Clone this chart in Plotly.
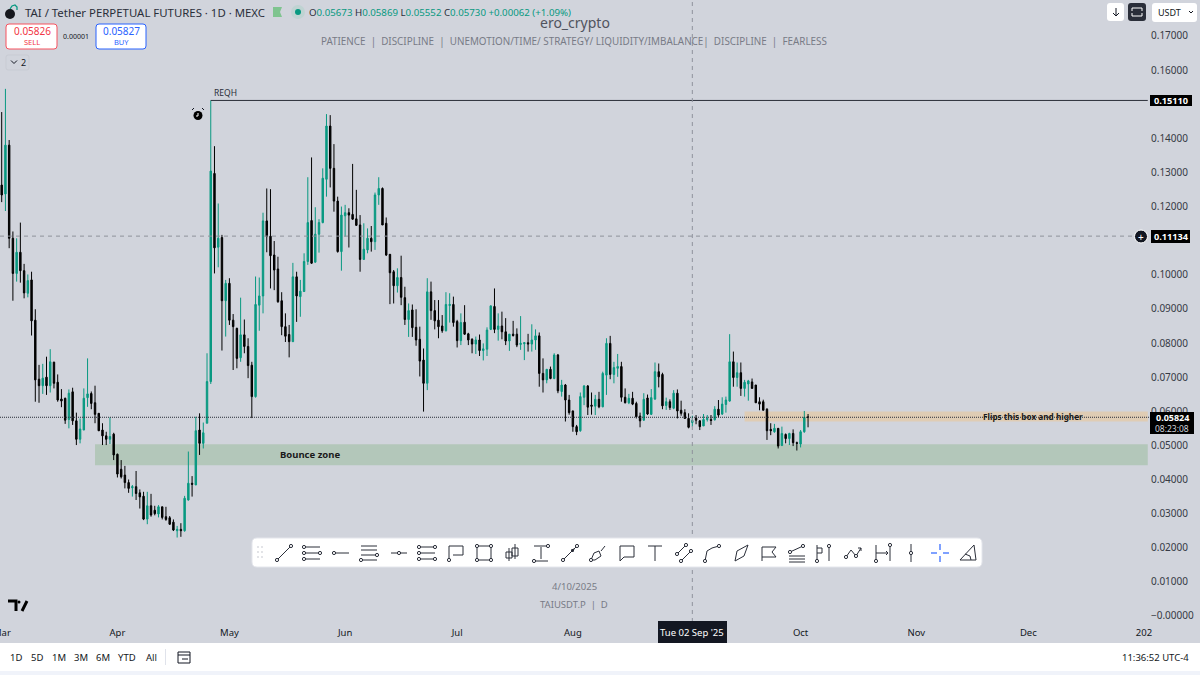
import pandas as pd
import plotly.graph_objects as go

W, H = 1200, 675
BG = "#d1d4dc"
TEAL = "#089981"
INK = "#131722"

# daily candles from 1 Mar 2025
opens = [
    .1263, .1237, .1380, .1107, .1004, .1066, .1012, .0946, .0985, .0867,
    .0694, .0675, .0700, .0675, .0744, .0685, .0636, .0638, .0576, .0657,
    .0572, .0518, .0545, .0640, .0652, .0625, .0594, .0545, .0528, .0518,
    .0533, .0474, .0430, .0413, .0391, .0376, .0379, .0361, .0351, .0284,
    .0323, .0310, .0299, .0320, .0291, .0288, .0275, .0250, .0254, .0250,
    .0340, .0389, .0384, .0545, .0506, .0565, .0687, .1297, .1081, .1109,
    .0924, .0975, .0867, .0843, .0757, .0824, .0790, .0735, .0643, .0911,
    .0938, .1158, .1113, .1058, .1017, .0924, .0848, .0825, .0804, .0994,
    .0936, .0951, .1039, .1159, .1037, .1119, .1153, .1280, .1436, .1312,
    .1216, .1068, .1173, .1182, .1177, .1164, .1146, .1045, .1073, .1107,
    .1097, .1234, .1253, .1151, .1060, .1009, .0968, .0992, .0933, .0869,
    .0897, .0846, .0811, .0750, .0682, .0950, .0895, .0867, .0850, .0836,
    .0910, .0913, .0863, .0807, .0861, .0827, .0811, .0797, .0809, .0778,
    .0782, .0840, .0907, .0840, .0850, .0833, .0806, .0826, .0826, .0796,
    .0798, .0801, .0797, .0809, .0821, .0711, .0692, .0723, .0696, .0765,
    .0658, .0677, .0633, .0601, .0555, .0543, .0641, .0674, .0618, .0615,
    .0635, .0613, .0706, .0799, .0708, .0726, .0731, .0641, .0625, .0638,
    .0623, .0586, .0574, .0639, .0591, .0636, .0716, .0708, .0617, .0628,
    .0609, .0653, .0603, .0596, .0579, .05673, .0580, .0572, .0557, .0576,
    .0576, .0575, .0606, .0592, .0620, .0630, .0745, .0699, .0713, .0667,
    .0680, .0686, .0677, .0628, .0628, .0606, .0547, .0540, .0550, .0500,
    .0532, .0520, .0535, .0508, .0504, .0540, .05835,
]
highs = [
    .1477, .1545, .1395, .1127, .1107, .1153, .1032, .1001, .1009, .0899,
    .0736, .0739, .0760, .0782, .0745, .0708, .0665, .0640, .0664, .0669,
    .0596, .0579, .0667, .0755, .0658, .0675, .0594, .0565, .0540, .0582,
    .0537, .0476, .0457, .0440, .0400, .0384, .0425, .0371, .0364, .0364,
    .0358, .0323, .0325, .0320, .0320, .0293, .0283, .0264, .0272, .0352,
    .0482, .0410, .0584, .0594, .0567, .0770, .1511, .1377, .1209, .1117,
    .0985, .0990, .0885, .0845, .0933, .0869, .0814, .0745, .0995, .0992,
    .1182, .1253, .1251, .1099, .1053, .0949, .0887, .0853, .1035, .1009,
    .0985, .1063, .1286, .1344, .1198, .1163, .1312, .1471, .1468, .1383,
    .1229, .1200, .1205, .1195, .1325, .1249, .1175, .1151, .1136, .1143,
    .1241, .1286, .1256, .1168, .1061, .1014, .1019, .1056, .0965, .0916,
    .0913, .0899, .0848, .0784, .0990, .0980, .0926, .0926, .0882, .0949,
    .0946, .0936, .0868, .0887, .0911, .0830, .0814, .0819, .0825, .0799,
    .0846, .0909, .0960, .0887, .0892, .0873, .0826, .0865, .0843, .0879,
    .0801, .0827, .0855, .0840, .0831, .0755, .0723, .0731, .0770, .0768,
    .0692, .0680, .0648, .0602, .0560, .0655, .0677, .0677, .0655, .0648,
    .0657, .0716, .0814, .0821, .0745, .0768, .0745, .0667, .0651, .0657,
    .0628, .0596, .0653, .0649, .0665, .0743, .0740, .0713, .0640, .0635,
    .0662, .0664, .0631, .0606, .0594, .05869, .0589, .0574, .0592, .0589,
    .0589, .0615, .0633, .0641, .0643, .0826, .0775, .0743, .0743, .0692,
    .0692, .0696, .0677, .0641, .0634, .0609, .0565, .0563, .0550, .0555,
    .0535, .0537, .0547, .0511, .0545, .0601, .0592,
]
lows = [
    .1213, .1187, .1078, .0924, .0980, .0977, .0931, .0934, .0822, .0628,
    .0625, .0651, .0648, .0655, .0667, .0628, .0612, .0563, .0550, .0560,
    .0501, .0506, .0545, .0613, .0606, .0565, .0542, .0501, .0501, .0504,
    .0457, .0406, .0403, .0374, .0361, .0350, .0340, .0315, .0281, .0269,
    .0291, .0295, .0289, .0283, .0279, .0267, .0249, .0230, .0232, .0247,
    .0338, .0350, .0384, .0472, .0491, .0565, .0680, .1004, .1022, .0778,
    .0819, .0853, .0721, .0726, .0745, .0770, .0697, .0580, .0640, .0836,
    .0887, .1066, .0960, .0955, .0918, .0823, .0803, .0758, .0804, .0862,
    .0877, .0950, .1029, .1032, .1036, .1065, .1151, .1229, .1256, .1185,
    .1065, .1012, .1112, .1080, .1161, .1143, .1009, .1045, .1063, .1068,
    .1073, .1205, .1146, .1055, .0914, .0916, .0948, .0911, .0853, .0818,
    .0818, .0792, .0702, .0599, .0662, .0868, .0840, .0814, .0830, .0834,
    .0860, .0848, .0787, .0794, .0824, .0794, .0770, .0768, .0762, .0749,
    .0762, .0838, .0829, .0807, .0811, .0794, .0777, .0819, .0788, .0780,
    .0750, .0775, .0775, .0780, .0672, .0655, .0682, .0694, .0694, .0653,
    .0643, .0570, .0590, .0540, .0530, .0540, .0618, .0589, .0590, .0589,
    .0609, .0612, .0648, .0694, .0682, .0701, .0628, .0623, .0621, .0618,
    .0579, .0553, .0572, .0589, .0589, .0633, .0670, .0606, .0604, .0604,
    .0606, .0579, .0587, .0579, .0550, .05552, .0562, .0545, .0557, .0570,
    .0560, .0573, .0582, .0589, .0596, .0628, .0672, .0672, .0645, .0643,
    .0631, .0667, .0625, .0603, .0603, .0516, .0530, .0537, .0491, .0498,
    .0506, .0501, .0498, .0485, .0494, .0537, .0553,
]
closes = [
    .1234, .1380, .1107, .1004, .1066, .1012, .0947, .0983, .0865, .0692,
    .0675, .0697, .0675, .0745, .0682, .0633, .0630, .0574, .0653, .0572,
    .0518, .0548, .0638, .0651, .0623, .0591, .0543, .0528, .0518, .0526,
    .0472, .0416, .0408, .0391, .0374, .0379, .0359, .0349, .0284, .0323,
    .0296, .0300, .0320, .0289, .0283, .0269, .0252, .0254, .0250, .0345,
    .0389, .0386, .0543, .0506, .0537, .0687, .1304, .1079, .1107, .0924,
    .0975, .0867, .0848, .0755, .0824, .0790, .0734, .0643, .0913, .0938,
    .1158, .1112, .1056, .1014, .0921, .0848, .0820, .0804, .0994, .0938,
    .0952, .1039, .1153, .1034, .1119, .1153, .1283, .1436, .1312, .1216,
    .1068, .1175, .1182, .1175, .1163, .1145, .1045, .1075, .1107, .1097,
    .1234, .1253, .1146, .1058, .1006, .0968, .0992, .0934, .0869, .0895,
    .0845, .0809, .0747, .0682, .0950, .0895, .0865, .0848, .0836, .0913,
    .0913, .0860, .0807, .0860, .0826, .0809, .0797, .0809, .0778, .0783,
    .0838, .0909, .0840, .0850, .0833, .0806, .0826, .0822, .0794, .0799,
    .0801, .0797, .0809, .0821, .0711, .0692, .0723, .0696, .0765, .0660,
    .0677, .0633, .0596, .0555, .0540, .0643, .0674, .0612, .0615, .0635,
    .0613, .0711, .0799, .0708, .0728, .0731, .0641, .0625, .0638, .0621,
    .0584, .0572, .0635, .0592, .0640, .0716, .0701, .0616, .0628, .0611,
    .0653, .0601, .0594, .0579, .0553, .05730, .0574, .0555, .0576, .0579,
    .0573, .0606, .0589, .0621, .0633, .0745, .0699, .0713, .0667, .0685,
    .0689, .0667, .0625, .0621, .0603, .0543, .0543, .0550, .0498, .0535,
    .0520, .0535, .0508, .0506, .0540, .0582, .05824,
]

price_ticks = [0.17, 0.16, 0.14, 0.13, 0.12, 0.10, 0.09, 0.08, 0.07, 0.06,
               0.05, 0.04, 0.03, 0.02, 0.01, 0.0]
price_labels = ["0.17000", "0.16000", "0.14000", "0.13000", "0.12000", "0.10000",
                "0.09000", "0.08000", "0.07000", "0.06000", "0.05000", "0.04000",
                "0.03000", "0.02000", "0.01000", "−0.00000"]
month_ticks = ["2025-04-01", "2025-05-01", "2025-06-01", "2025-07-01",
               "2025-08-01", "2025-10-01", "2025-11-01", "2025-12-01", "2026-01-01"]
month_labels = ["Apr", "May", "Jun", "Jul", "Aug", "Oct", "Nov", "Dec", "202"]
range_buttons = ["1D", "5D", "1M", "3M", "6M", "YTD", "All"]

req_high = 0.15110
cross_price = 0.11134
last_price = 0.05824
cross_date = "2025-09-02"
bounce_zone = (0.0442, 0.0503, "2025-03-26")
flip_zone = (0.0570, 0.0599, "2025-09-16")

dates = pd.date_range("2025-03-01", periods=len(opens), freq="D")


def px(x):
    return x / W


def py(y):
    return 1 - y / H


def rect(x0, y0, x1, y1, fill, line=None, layer="above"):
    return dict(type="rect", xref="paper", yref="paper", x0=px(x0), x1=px(x1), y0=py(y0), y1=py(y1),
                fillcolor=fill, line=dict(width=1 if line else 0, color=line or fill), layer=layer)


def rrect(x0, y0, x1, y1, r, fill, line=None):
    d = (f"M{px(x0 + r)},{py(y0)} L{px(x1 - r)},{py(y0)} Q{px(x1)},{py(y0)} {px(x1)},{py(y0 + r)} "
         f"L{px(x1)},{py(y1 - r)} Q{px(x1)},{py(y1)} {px(x1 - r)},{py(y1)} "
         f"L{px(x0 + r)},{py(y1)} Q{px(x0)},{py(y1)} {px(x0)},{py(y1 - r)} "
         f"L{px(x0)},{py(y0 + r)} Q{px(x0)},{py(y0)} {px(x0 + r)},{py(y0)} Z")
    return dict(type="path", xref="paper", yref="paper", path=d, fillcolor=fill,
                line=dict(width=1 if line else 0, color=line or fill), layer="above")


def circle(cx, cy, r, fill, line=None):
    return dict(type="circle", xref="paper", yref="paper", x0=px(cx - r), x1=px(cx + r),
                y0=py(cy + r), y1=py(cy - r), fillcolor=fill,
                line=dict(width=1 if line else 0, color=line or fill), layer="above")


def polyline(cx, cy, pts, color=INK, width=1):
    d = "M" + " L".join(f"{px(cx + a)},{py(cy + b)}" for a, b in pts)
    return dict(type="path", xref="paper", yref="paper", path=d,
                line=dict(width=width, color=color), layer="above")


def label(x, y, text, size=10, color=INK, anchor="center", family="Noto Sans", bold=False):
    return dict(xref="paper", yref="paper", x=px(x), y=py(y), text=f"<b>{text}</b>" if bold else text,
                showarrow=False, xanchor=anchor, yanchor="middle", align=anchor,
                font=dict(size=size, color=color, family=family))


fig = go.Figure(go.Candlestick(
    x=dates, open=opens, high=highs, low=lows, close=closes,
    increasing=dict(line=dict(color=TEAL, width=1), fillcolor=TEAL),
    decreasing=dict(line=dict(color="#000000", width=1), fillcolor="#000000"),
    whiskerwidth=0, showlegend=False,
))

shapes = [
    dict(type="rect", xref="x", yref="y", x0=bounce_zone[2], x1="2026-01-02", y0=bounce_zone[0], y1=bounce_zone[1],
         fillcolor="#b3c7ba", line=dict(width=0), layer="below"),
    dict(type="rect", xref="x", yref="y", x0=flip_zone[2], x1="2026-01-02", y0=flip_zone[0], y1=flip_zone[1],
         fillcolor="#dfccb4", line=dict(width=0), layer="below"),
    dict(type="line", xref="x", yref="y", x0="2025-04-26", x1="2026-01-02", y0=req_high, y1=req_high,
         line=dict(color="#2a2e39", width=1)),
    dict(type="line", xref="paper", yref="y", x0=0, x1=1150 / W, y0=cross_price, y1=cross_price,
         line=dict(color="#8f929c", width=1, dash="4px,4px")),
    dict(type="line", xref="x", yref="paper", x0=cross_date, x1=cross_date, y0=py(622), y1=1,
         line=dict(color="#8f929c", width=1, dash="4px,4px")),
    dict(type="line", xref="paper", yref="y", x0=0, x1=1150 / W, y0=last_price, y1=last_price,
         line=dict(color="#2a2e39", width=1, dash="1px,1px")),
]

annotations = [
    label(23, 12, "TAI / Tether PERPETUAL FUTURES · 1D · MEXC", 11.4, "#2a2e39", "left"),
    label(307, 12, "O<span style='color:#089981'>0.05673</span> H<span style='color:#089981'>0.05869</span> "
                   "L<span style='color:#089981'>0.05552</span> C<span style='color:#089981'>0.05730 +0.00062 (+1.09%)</span>",
          9.7, "#2a2e39", "left"),
    label(575, 22, "ero_crypto", 14, "#50535e"),
    label(574, 41, "PATIENCE  |  DISCIPLINE  |  UNEMOTION/TIME/ STRATEGY/ LIQUIDITY/IMBALANCE|  DISCIPLINE  |  FEARLESS",
          9.85, "#787b86"),
    label(32, 31, "0.05826", 10, "#f23645"),
    label(32, 42, "SELL", 7.5, "#f23645"),
    label(121, 31, "0.05827", 10, "#2962ff"),
    label(121, 42, "BUY", 7.5, "#2962ff"),
    label(76, 36, "0.00001", 7, INK),
    label(23, 62, "2", 9, INK),
    label(225, 92, "REQH", 8.5, "#2a2e39"),
    label(310, 454, "Bounce zone", 9.5, "#1a1a1a", bold=True),
    label(1033, 416, "Flips this box and higher", 8.2, "#1a1a1a", bold=True),
    label(574, 586, "4/10/2025", 9.5, "#787b86"),
    label(574, 604, "TAIUSDT.P  |  D", 9.5, "#787b86"),
    label(692.5, 632, "Tue 02 Sep '25", 9.5, "#ffffff"),
    label(1.7, 632, "Mar", 9.5, INK),
    label(1171, 100.5, "0.15110", 9.2, "#ffffff", bold=True),
    label(1171, 236.5, "0.11134", 9.2, "#ffffff", bold=True),
    label(1172, 417.5, "0.05824", 9, "#ffffff", bold=True),
    label(1172, 428.5, "08:23:08", 8.5, "#d1d4dc"),
    label(1141, 236.5, "+", 10, "#ffffff"),
    label(1169, 12, "USDT", 9, INK),
    label(1191, 657, "11:36:52 UTC-4", 9.5, INK, "right"),
]
for b, xb in zip(range_buttons, [16, 37, 59, 81, 103, 127, 151]):
    annotations.append(label(xb, 657, b, 9.5, INK))

# header badges and price tags
shapes += [
    circle(10, 14, 5, "#16171d"),
    polyline(10, 10, [(0, -1), (2, -4), (5, -5), (7, -3), (7, 0)], TEAL, 1.3),
    dict(type="path", xref="paper", yref="paper", layer="above", fillcolor="#7fc48f", line=dict(width=0),
         path=f"M{px(273)},{py(7)} L{px(282)},{py(7)} L{px(280)},{py(12)} L{px(282)},{py(17)} L{px(273)},{py(17)} Z"),
    circle(298, 12, 7, "#bfd3d2"),
    circle(298, 12, 3, TEAL),
    rrect(6, 24, 57, 49, 3, "#ffffff", "#f7525f"),
    rrect(96, 24, 146, 49, 3, "#ffffff", "#2962ff"),
    rrect(6, 55, 29, 70, 2, BG, "#c8cbd3"),
    polyline(14, 62, [(-3, -1.5), (0, 1.5), (3, -1.5)], INK, 1),
    circle(198, 115.5, 4.5, "#000000"),
    polyline(198, 115, [(-6, -5), (-4, -7)], INK, 1),
    polyline(198, 115, [(4, -7), (6, -5)], INK, 1),
    polyline(198, 115, [(0, -2), (0, 1), (-2, 1)], "#ffffff", 1),
    rect(1150, 95, 1192, 106, "#000000"),
    rect(1151, 230, 1190, 243, "#000000"),
    rect(1150, 412, 1194, 434, "#000000"),
    circle(1141, 236.5, 6.5, "#131722", "#ffffff"),
    rect(658, 621, 727, 643, "#131722"),
    rrect(1107, 3, 1124, 21, 3, "#ffffff"),
    polyline(1116, 12, [(0, -4), (0, 3)], INK, 1),
    polyline(1116, 12, [(-3, 1), (0, 4), (3, 1)], INK, 1),
    rrect(1128, 3, 1146, 21, 3, "#2a2e39"),
    polyline(1137, 12, [(-5, -1), (-5, -4), (5, -4), (5, -1)], "#ffffff", 1),
    polyline(1137, 12, [(-5, 1), (-5, 4), (5, 4), (5, 1)], "#ffffff", 1),
    rrect(1152, 3, 1197, 22, 3, "#ffffff"),
    polyline(1191, 12, [(-2, -1), (0, 1), (2, -1)], INK, 1),
    # tradingview mark
    polyline(14, 605, [(-6, -4), (2, -4), (2, 6)], "#000000", 3),
    polyline(22, 605, [(5, -4), (0, 6)], "#000000", 3),
    circle(19, 602, 1.5, "#000000"),
    # bottom bar
    rect(0, 643, W, 671, "#ffffff"),
    rect(0, 671, W, H, "#f0f3fa"),
    rect(165, 649, 166, 665, "#e0e3eb"),
    polyline(184, 657, [(-6, -5), (6, -5), (6, 6), (-6, 6), (-6, -5)], INK, 1),
    polyline(184, 657, [(-6, -2), (6, -2)], INK, 1),
    polyline(184, 657, [(-2, 2), (4, 2)], INK, 1),
    # drawing toolbar
    rrect(252, 538, 982, 567, 5, "#ffffff", "#e4e6ec"),
]

for hx in (258, 262):
    for hy in (547, 552, 557):
        shapes.append(circle(hx, hy, 0.7, "#b2b5be"))

# toolbar glyphs, local coordinates around each button
tools = [
    (284, [[(-7, 7), (7, -7)]], [(-7, 7), (7, -7)]),
    (312, [[(-8, -6), (8, -6)], [(-8, 0), (8, 0)], [(-8, 6), (8, 6)]], [(-8, -6), (-8, 0), (-8, 6), (8, 0)]),
    (341, [[(-6, 0), (8, 0)]], [(-7, 0)]),
    (369, [[(-8, -7), (8, -7)], [(-8, -3), (8, -3)], [(-8, 2), (8, 2)], [(-8, 7), (8, 7)]], [(-8, 7), (8, 2)]),
    (399, [[(-8, 0), (8, 0)]], [(0, 0)]),
    (427, [[(-8, -6), (8, -6)], [(-8, 0), (8, 0)], [(-8, 6), (8, 6)]], [(-8, -6), (-8, 0), (-8, 6), (8, -6), (8, 6)]),
    (456, [[(-7, 7), (-7, -7), (7, -7), (7, 2), (-3, 2)]], [(-7, 7)]),
    (484, [[(-7, -7), (7, -7), (7, 7), (-7, 7), (-7, -7)]], [(-7, -7), (7, -7), (7, 7), (-7, 7)]),
    (512, [[(-3, -5), (-3, 8)], [(3, -9), (3, 6)], [(-6, -1), (0, -1), (0, 5), (-6, 5), (-6, -1)],
           [(0, -5), (6, -5), (6, 3), (0, 3), (0, -5)]], []),
    (541, [[(-7, 8), (7, 8)], [(0, -6), (0, 6)], [(-7, -7), (7, -7)]], [(-7, 8), (7, -7)]),
    (570, [[(-7, 7), (7, -7)], [(1, -3), (4, -4), (3, -1), (1, -3)]], [(-7, 7), (7, -7)]),
    (598, [[(-7, 7), (-4, 0), (1, -2), (3, 3), (-3, 7), (-7, 7)], [(3, -2), (7, -7)]], [(-7, 7)]),
    (627, [[(-7, -7), (7, -7), (7, 4), (-3, 4), (-7, 8), (-7, -7)]], []),
    (655, [[(-7, -7), (7, -7)], [(0, -7), (0, 8)]], []),
    (684, [[(-7, 1), (2, -8)], [(-3, 8), (7, -2)]], [(-7, 1), (2, -8), (-3, 8), (7, -2)]),
    (712, [[(-7, 8), (-5, -2), (0, -5), (7, -7)]], [(-7, 8), (7, -7)]),
    (741, [[(-6, 8), (-4, -2), (7, -8), (3, 3), (-6, 8)]], []),
    (769, [[(-7, 8), (-7, -6), (7, -6), (3, -1), (7, 4), (-7, 4)]], []),
    (797, [[(-8, 3), (8, 3)], [(-8, 6), (8, 6)], [(-8, 9), (8, 9)], [(-7, -1), (6, -7)]], [(-7, -1), (6, -7)]),
    (825, [[(-8, -8), (-8, 8)], [(-8, -5), (-3, -5), (-3, 0), (-8, 0)], [(4, -7), (4, 8)]], [(-8, 8), (4, -7)]),
    (854, [[(-8, 4), (-3, -3), (2, 3), (7, -5)], [(4, -5), (7, -5), (7, -2)]], [(-8, 4), (2, 3)]),
    (883, [[(-7, -8), (-7, 8)], [(7, -8), (7, 8)], [(-7, 0), (5, 0)], [(3, -2), (5, 0), (3, 2)]], [(-7, 8), (7, -8)]),
    (911, [[(0, -9), (0, 9)]], [(0, 0)]),
]
for cx, paths, dots in tools:
    for pts in paths:
        shapes.append(polyline(cx, 553, pts, "#2a2e39", 1))
    for a, b in dots:
        shapes.append(circle(cx + a, 553 + b, 1.6, "#ffffff", "#2a2e39"))

for pts in ([(0, -9), (0, -3)], [(0, 3), (0, 9)], [(-9, 0), (-3, 0)], [(3, 0), (9, 0)]):
    shapes.append(polyline(940, 553, pts, "#2962ff", 1.2))
shapes.append(polyline(968, 553, [(-8, 7), (6, -8), (8, 7), (-8, 7)], "#2a2e39", 1))
shapes.append(polyline(968, 553, [(-3, 1), (2, 3), (3, 7)], "#2a2e39", 1))

fig.update_layout(
    width=W, height=H,
    paper_bgcolor=BG, plot_bgcolor=BG,
    margin=dict(l=0, r=0, t=0, b=0),
    boxgap=0.45,
    shapes=shapes, annotations=annotations,
    xaxis=dict(
        domain=[0, 1150 / W], range=["2025-02-28 13:05", "2026-01-02 14:24"],
        rangeslider=dict(visible=False), showgrid=False, zeroline=False, showline=False,
        tickmode="array", tickvals=month_ticks, ticktext=month_labels, ticks="", ticklabelstandoff=3,
        tickfont=dict(size=9.5, color=INK, family="Noto Sans"), automargin=False,
    ),
    yaxis=dict(
        domain=[py(622), 1], range=[-0.00176, 0.18054], side="right", anchor="x",
        showgrid=False, zeroline=False, showline=False,
        tickmode="array", tickvals=price_ticks, ticktext=price_labels, ticks="",
        tickfont=dict(size=10, color="#363a45", family="Noto Sans"), automargin=False,
    ),
)

# the page's default body margin would push the chart off the window
fig.write_html("out.html", config=dict(displayModeBar=False),
               post_script="document.body.style.margin='0';document.body.style.overflow='hidden';")
